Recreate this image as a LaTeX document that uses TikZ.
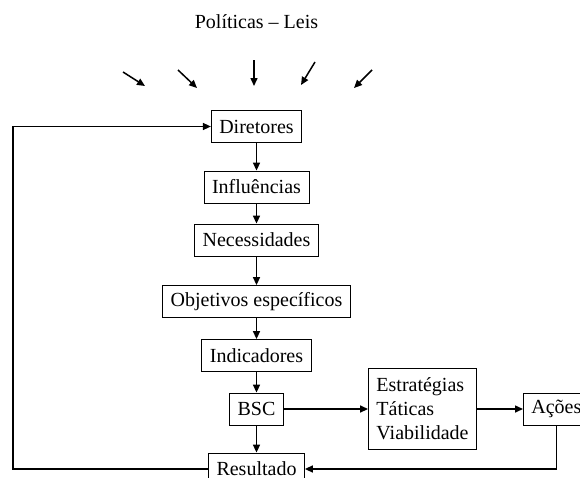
\documentclass[tikz,border=0pt]{standalone}
\usepackage{fontspec}
\setmainfont{Liberation Serif}
\usetikzlibrary{arrows.meta, positioning, calc}

\tikzset{
	caixa/.style={draw, line width=0.8pt, inner xsep=8pt, inner ysep=0pt,
		minimum height=32pt, font=\fontsize{20}{24}\selectfont},
	seta/.style={line width=1.5pt, -{Triangle[length=8pt, width=7pt]}}
}

\begin{document}
\begin{tikzpicture}[x=1pt, y=-1pt]
	\useasboundingbox (0,0) rectangle (580,477);
	\clip (0,0) rectangle (580,477);

	% titulo e setas de cima
	\node[font=\fontsize{20}{24}\selectfont] (titulo) at (256.5,22) {Políticas – Leis};
	\foreach \xa/\ya/\xb/\yb [count=\i] in {
		123/72/145/86, 178/70/197/88, 254/60/254/86, 315/62/301/85, 372/70/354/88}{
		\coordinate (p\i) at (\xa,\ya);
		\coordinate (q\i) at (\xb,\yb);
		\draw[seta] (p\i) -- (q\i);
	}

	% coluna central
	\foreach \n/\t/\y in {
		dir/Diretores/126.5,
		inf/Influências/187,
		nec/Necessidades/240,
		obj/Objetivos específicos/301.5,
		ind/Indicadores/355.5,
		bsc/BSC/409,
		res/Resultado/469}{
		\node[caixa] (\n) at (256.5,\y) {\t};
	}
	\foreach \a/\b in {dir/inf, inf/nec, nec/obj, obj/ind, ind/bsc, bsc/res}
		\draw[seta] (\a) -- (\b);

	% lado direito
	\node[caixa, align=left, minimum height=81pt] (est) at (422.5,409)
		{Estratégias\\Táticas\\Viabilidade};
	\node[caixa, anchor=west] (acoes) at (523,409) {Ações};
	\draw[seta] (bsc) -- (est);
	\draw[seta] (est) -- (acoes);
	\draw[seta] (acoes.south) |- (res.east);

	% retorno
	\coordinate (canto) at (13,469);
	\draw[seta] (res.west) -- (canto) |- (dir.west);
\end{tikzpicture}
\end{document}
